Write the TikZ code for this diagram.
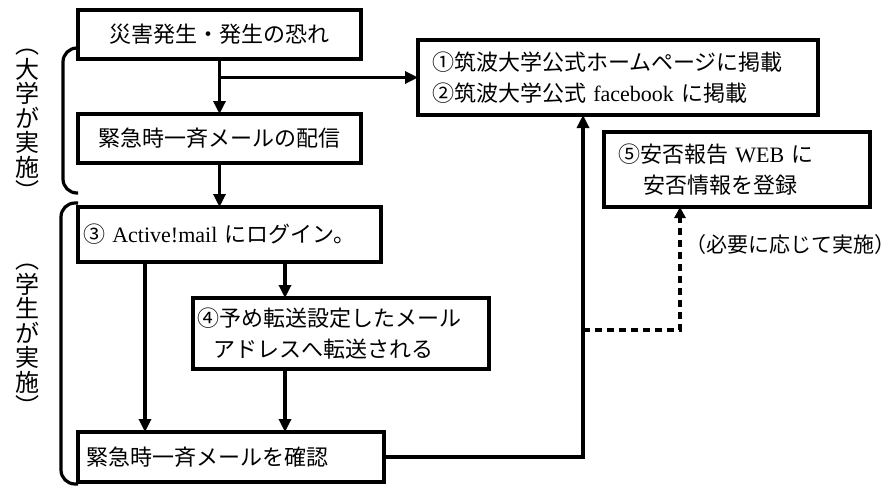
\documentclass[tikz,border=0pt]{standalone}
\usepackage{fontspec}
\setmainfont{Liberation Serif}
\newfontfamily\jp{Noto Sans CJK JP}
\usetikzlibrary{arrows.meta}

\begin{document}
\begin{tikzpicture}[x=1pt,y=-1pt,
  box/.style={draw,line width=3.2pt,anchor=north west,inner sep=0pt,outer sep=0pt,
    font=\jp\fontsize{22}{31}\selectfont},
  lbox/.style={box,align=left},
  arr/.style={line width=3.2pt,-{Triangle[width=12pt,length=13pt]}},
  dasharr/.style={line width=3.2pt,dash pattern=on 7pt off 5pt,-{Triangle[width=11pt,length=11pt]}},
  brace/.style={line width=3.2pt,rounded corners=14pt},
  vlabel/.style={align=center,inner sep=0pt,font=\jp\fontsize{24}{24.5}\selectfont},
  note/.style={inner sep=0pt,font=\jp\fontsize{21}{26}\selectfont}]
\useasboundingbox (0,0) rectangle (896,487);

% university side
\node[box,minimum width=283pt,minimum height=49pt] (hazard) at (78,10) {災害発生・発生の恐れ};
\node[box,minimum width=283pt,minimum height=49pt] (notice) at (78,114) {緊急時一斉メールの配信};
\node[lbox,text width=372pt,inner xsep=14pt,minimum height=75pt] (web) at (418,40)
  {①筑波大学公式ホームページに掲載\\②筑波大学公式 {\rmfamily facebook} に掲載};
\node[lbox,text width=238pt,inner xsep=14pt,minimum height=75pt] (safety) at (604,132)
  {⑤安否報告 {\rmfamily WEB} に\\\hspace*{25pt}安否情報を登録};

% student side
\node[lbox,text width=293pt,inner xsep=5pt,minimum height=55pt] (login) at (78,207)
  {③ {\rmfamily Active!mail} にログイン。};
\node[lbox,text width=288pt,inner xsep=4pt,minimum height=71pt] (forward) at (193,298)
  {④予め転送設定したメール\\\hspace*{16pt}アドレスへ転送される};
\node[lbox,text width=290pt,inner xsep=8pt,minimum height=50pt] (check) at (78,432)
  {緊急時一斉メールを確認};

\node[note] (optional) at (790,245) {（必要に応じて実施）};

% side labels
\node[vlabel] (univ) at (28,125) {︵\\大\\学\\が\\実\\施\\︶};
\node[vlabel] (stud) at (28,340) {︵\\学\\生\\が\\実\\施\\︶};
\draw[brace] (78,48) -- (63,48) -- (63,193) -- (78,193);
\draw[brace] (78,203) -- (61,203) -- (61,484) -- (78,484);

% connectors
\coordinate (fork) at (hazard.south |- web.west);
\draw[arr] (hazard.south) -- (notice.north);
\draw[arr] (fork) -- (web.west);
\draw[arr] (notice.south) -- (notice.south |- login.north);
\draw[arr] ([xshift=67pt]login.south west) -- ([xshift=67pt]check.north west);
\draw[arr] ([xshift=207pt]login.south west) -- ([xshift=92pt]forward.north west);
\draw[arr] ([xshift=92pt]forward.south west) -- ([xshift=207pt]check.north west);
\draw[arr] (check.east) -| ([xshift=165pt]web.south west);
\coordinate (branch) at (583,330);
\draw[dasharr] (branch) -| ([xshift=76pt]safety.south west);
\end{tikzpicture}
\end{document}
